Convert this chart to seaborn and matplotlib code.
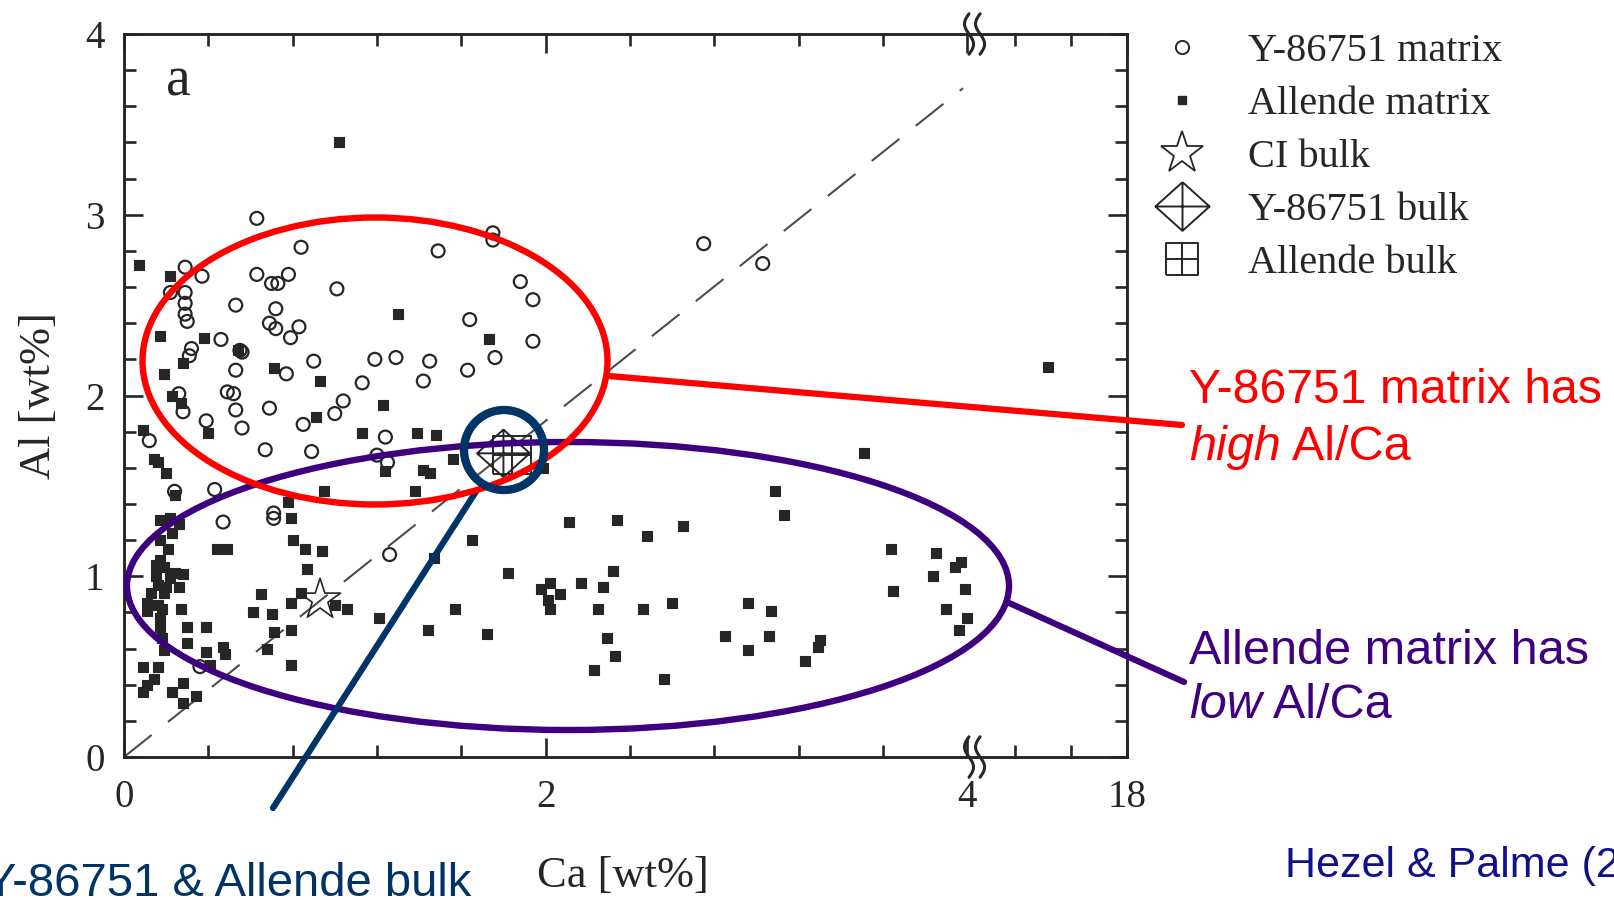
import matplotlib
matplotlib.use("Agg")
import matplotlib.pyplot as plt
import numpy as np
import pandas as pd
import seaborn as sns
from matplotlib.lines import Line2D
from matplotlib.patches import Ellipse
from matplotlib.path import Path

# Y-86751 matrix analyses (open circles), wt%
y86_ca = [0.63, 0.84, 1.49, 1.75, 1.75, 2.75, 3.03, 0.29, 0.37, 0.63,
          0.70, 0.73, 0.78, 1.01, 0.22, 0.29, 0.29, 0.53, 0.72, 0.29,
          0.30, 0.69, 0.72, 0.83, 0.79, 0.46, 1.88, 1.94, 1.64, 1.94,
          0.32, 0.31, 0.55, 0.56, 0.90, 1.19, 1.29, 1.45, 1.76, 1.63,
          0.53, 0.77, 1.13, 1.42, 0.26, 0.49, 0.52, 1.04, 1.00, 0.28,
          0.53, 0.69, 0.39, 0.56, 0.85, 1.24, 1.20, 1.25, 0.12, 0.67,
          0.89, 0.24, 0.43, 0.47, 0.71, 0.71, 1.26, 0.36]
y86_al = [2.98, 2.82, 2.80, 2.90, 2.86, 2.84, 2.73, 2.71, 2.66, 2.67,
          2.62, 2.62, 2.67, 2.59, 2.57, 2.57, 2.51, 2.50, 2.48, 2.45,
          2.41, 2.40, 2.37, 2.38, 2.32, 2.31, 2.63, 2.53, 2.42, 2.30,
          2.26, 2.22, 2.25, 2.24, 2.19, 2.20, 2.21, 2.19, 2.21, 2.14,
          2.14, 2.12, 2.07, 2.08, 2.01, 2.02, 2.01, 1.97, 1.90, 1.91,
          1.92, 1.93, 1.86, 1.82, 1.84, 1.77, 1.67, 1.63, 1.75, 1.70,
          1.69, 1.47, 1.48, 1.30, 1.35, 1.32, 1.12, 0.50]

# Allende matrix analyses (filled squares), wt%
allende_upper_ca = [1.02, 0.07, 0.22, 0.17, 0.38, 0.28, 0.19, 0.54, 0.71, 0.93,
                    1.30, 1.73, 0.23, 0.27, 0.91, 1.23, 0.40, 0.09, 1.13, 1.39,
                    1.48, 1.56, 1.42, 1.45, 1.24, 0.14, 0.16, 0.20, 0.24, 0.95,
                    1.38, 1.99, 15.2, 3.51]
allende_upper_al = [3.40, 2.72, 2.66, 2.33, 2.32, 2.18, 2.12, 2.25, 2.15, 2.08,
                    2.45, 2.31, 2.00, 1.96, 1.88, 1.95, 1.79, 1.81, 1.79, 1.79,
                    1.78, 1.65, 1.59, 1.57, 1.58, 1.65, 1.63, 1.57, 1.45, 1.47,
                    1.47, 1.60, 2.16, 1.68]
allende_left_ca = [0.17, 0.22, 0.26, 0.23, 0.17, 0.21, 0.17, 0.15, 0.19, 0.24,
                   0.28, 0.15, 0.22, 0.26, 0.20, 0.16, 0.13, 0.19, 0.11, 0.16,
                   0.11, 0.18, 0.27, 0.17, 0.17, 0.30, 0.39, 0.18, 0.30, 0.19,
                   0.39, 0.47, 0.48, 0.09, 0.16, 0.41, 0.14, 0.11, 0.09, 0.28,
                   0.23, 0.28, 0.34]
allende_left_al = [1.31, 1.32, 1.29, 1.24, 1.20, 1.15, 1.09, 1.06, 1.05, 1.02,
                   1.01, 1.00, 0.99, 0.94, 0.94, 0.95, 0.91, 0.91, 0.85, 0.84,
                   0.81, 0.82, 0.82, 0.77, 0.72, 0.72, 0.72, 0.66, 0.63, 0.59,
                   0.58, 0.61, 0.57, 0.50, 0.50, 0.51, 0.43, 0.40, 0.36, 0.41,
                   0.36, 0.30, 0.34]
allende_mid_ca = [0.44, 0.49, 0.78, 0.79, 0.80, 0.86, 0.94, 0.87, 0.65, 0.61,
                  0.70, 0.79, 0.84, 0.71, 0.79, 0.68, 0.79, 1.00, 1.06, 1.21,
                  1.57, 1.44, 1.72, 1.47, 1.65, 1.82, 2.11, 2.34, 2.02, 1.98,
                  2.07, 2.01, 2.02, 2.17, 2.27, 2.32, 2.25, 2.29, 2.33, 2.23]
allende_mid_al = [1.15, 1.15, 1.41, 1.32, 1.20, 1.15, 1.14, 1.04, 0.90, 0.80,
                  0.79, 0.85, 0.91, 0.69, 0.70, 0.60, 0.51, 0.84, 0.82, 0.77,
                  0.82, 0.70, 0.68, 1.10, 1.20, 1.02, 1.30, 1.31, 0.96, 0.93,
                  0.90, 0.87, 0.82, 0.96, 0.94, 1.03, 0.82, 0.66, 0.56, 0.48]
allende_right_ca = [3.09, 3.13, 2.48, 2.65, 2.46, 2.60, 2.56, 2.96, 3.07, 2.85,
                    3.06, 2.96, 3.30, 3.29, 3.23, 3.64, 3.65, 3.85, 3.97, 3.94,
                    3.84, 3.99, 3.90, 4.00, 3.96]
allende_right_al = [1.47, 1.34, 1.22, 1.28, 0.82, 0.85, 0.43, 0.85, 0.81, 0.67,
                    0.67, 0.59, 0.65, 0.61, 0.53, 1.15, 0.92, 1.13, 1.08, 1.05,
                    1.00, 0.93, 0.82, 0.77, 0.70]

# bulk compositions
ci_bulk_ca, ci_bulk_al = [0.93], [0.87]
y86_bulk_ca, y86_bulk_al = [1.80], [1.68]
allende_bulk_ca, allende_bulk_al = [1.84], [1.67]

# CI Al/Ca reference line
ci_line_ca = [0.0, 3.98]
ci_line_al = [0.0, 3.70]

legend_labels = ["Y-86751 matrix", "Allende matrix", "CI bulk",
                 "Y-86751 bulk", "Allende bulk"]

W, H = 1614, 900
INK = "#262626"
RED = "#ff0000"
PURPLE = "#3f007f"
NAVY = "#003366"
BREAK = 12.5  # Ca values between 4 and BREAK are squeezed out of the axis


def ca_forward(x):
    x = np.asarray(x, dtype=float)
    return np.where(x <= 4, x,
                    np.where(x <= BREAK, 4 + (x - 4) * 0.025 / (BREAK - 4),
                             4.025 + (x - BREAK) * 0.1333))


def ca_inverse(t):
    t = np.asarray(t, dtype=float)
    return np.where(t <= 4, t,
                    np.where(t <= 4.025, 4 + (t - 4) * (BREAK - 4) / 0.025,
                             BREAK + (t - 4.025) / 0.1333))


def fxy(px, py):
    return px / W, 1 - py / H


diamond_cross = Path(
    [(0, 0.9), (1, 0), (0, -0.9), (-1, 0), (0, 0.9), (-1, 0), (1, 0), (0, -0.9), (0, 0.9)],
    [Path.MOVETO, Path.LINETO, Path.LINETO, Path.LINETO, Path.LINETO,
     Path.MOVETO, Path.LINETO, Path.MOVETO, Path.LINETO])
grid_square = Path(
    [(-1, -1), (1, -1), (1, 1), (-1, 1), (-1, -1), (-1, 0), (1, 0), (0, -1), (0, 1)],
    [Path.MOVETO, Path.LINETO, Path.LINETO, Path.LINETO, Path.LINETO,
     Path.MOVETO, Path.LINETO, Path.MOVETO, Path.LINETO])

sns.set_theme(style="white")
plt.rcParams["font.family"] = ["Liberation Serif", "DejaVu Serif"]

y86 = pd.DataFrame({"Ca": y86_ca, "Al": y86_al})
allende = pd.DataFrame({
    "Ca": allende_upper_ca + allende_left_ca + allende_mid_ca + allende_right_ca,
    "Al": allende_upper_al + allende_left_al + allende_mid_al + allende_right_al,
})

fig = plt.figure(figsize=(W / 100, H / 100), dpi=100)
ax = fig.add_axes([124 / W, 1 - 757 / H, (1127 - 124) / W, (757 - 34) / H])
ax.set_xscale("function", functions=(ca_forward, ca_inverse))

ax.plot(ci_line_ca, ci_line_al, ls=(0, (17, 10)), color="#4d4d4d", lw=1.5, zorder=2)

sns.scatterplot(data=y86, x="Ca", y="Al", marker="o", s=9.3 ** 2,
                facecolors="none", edgecolor=INK, linewidth=1.6, ax=ax, zorder=3)
sns.scatterplot(data=allende, x="Ca", y="Al", marker="s", s=7.2 ** 2,
                color=INK, edgecolor=INK, linewidth=0.8, ax=ax, zorder=3)
sns.scatterplot(x=ci_bulk_ca, y=ci_bulk_al, marker="*", s=31 ** 2,
                facecolors="none", edgecolor=INK, linewidth=1.2, ax=ax, zorder=4)
sns.scatterplot(x=y86_bulk_ca, y=y86_bulk_al, marker=diamond_cross, s=38 ** 2,
                facecolors="none", edgecolor=INK, linewidth=1.4, ax=ax, zorder=4)
sns.scatterplot(x=allende_bulk_ca, y=allende_bulk_al, marker=grid_square, s=27 ** 2,
                facecolors="none", edgecolor=INK, linewidth=1.4, ax=ax, zorder=4)

ax.set_xlim(0, 18)
ax.set_ylim(0, 4)
ax.set_xticks([0, 2, 4, 18])
ax.set_xticklabels(["0", "2", "4", "18"])
ax.set_xticks([0.4, 0.8, 1.2, 1.6, 2.4, 2.8, 3.2, 3.6, 14, 16], minor=True)
ax.set_yticks([0, 1, 2, 3, 4])
ax.set_yticklabels(["0", "1", "2", "3", "4"])
ax.set_yticks([v for v in np.round(np.arange(0.2, 4.0, 0.2), 1) if v % 1], minor=True)
ax.tick_params(which="both", direction="in", bottom=True, left=True, top=True,
               right=True, width=1.9, color=INK, labelcolor=INK)
ax.tick_params(which="major", length=13.5, labelsize=28)
ax.tick_params(which="minor", length=8.5)
ax.tick_params(axis="x", which="major", pad=16)
ax.tick_params(axis="y", which="major", pad=14)
for spine in ax.spines.values():
    spine.set_linewidth(2.1)
    spine.set_color(INK)

ax.set_xlabel("Ca [wt%]", fontsize=32, color=INK)
ax.set_ylabel("Al [wt%]", fontsize=32, color=INK)
ax.xaxis.set_label_coords(0.4975, -0.165)
ax.xaxis.label.set_va("center")
ax.yaxis.set_label_coords(-0.0845, 0.4993)
ax.yaxis.label.set_va("center")

ax.text(0.0538, 0.9156, "a", transform=ax.transAxes, fontsize=40, color=INK,
        ha="center", va="baseline")

# axis-break squiggles on the top and bottom spines
tt = np.linspace(-1, 1, 40)
for xb in (0.8425, 0.8535):
    for yb in (0.0, 1.0):
        ax.plot(xb - 0.0045 * np.sin(np.pi * tt), yb + 0.028 * tt, color=INK, lw=2.2,
                transform=ax.transAxes, clip_on=False, zorder=6)

handles = [
    Line2D([], [], ls="none", marker="o", ms=9.5, mfc="none", mec=INK, mew=1.4),
    Line2D([], [], ls="none", marker="s", ms=6, mfc=INK, mec=INK),
    Line2D([], [], ls="none", marker="*", ms=32, mfc="none", mec=INK, mew=1.3),
    Line2D([], [], ls="none", marker=diamond_cross, ms=39, mfc="none", mec=INK, mew=1.4),
    Line2D([], [], ls="none", marker=grid_square, ms=23, mfc="none", mec=INK, mew=1.4),
]
leg = fig.legend(handles, legend_labels, loc="upper left",
                 bbox_to_anchor=(1155 / W, 1 - 33 / H), frameon=False,
                 prop={"family": "Liberation Serif", "size": 29},
                 handlelength=1.34, handletextpad=0.98, labelspacing=0.39,
                 borderpad=0, borderaxespad=0)
for txt in leg.get_texts():
    txt.set_color(INK)

# highlight overlays
fig.add_artist(Ellipse(fxy(568, 586), 882 / W, 288 / H, transform=fig.transFigure,
                       fill=False, ec=PURPLE, lw=4.6, zorder=10))
fig.add_artist(Ellipse(fxy(375, 361), 465 / W, 287 / H, transform=fig.transFigure,
                       fill=False, ec=RED, lw=4.6, zorder=11))
fig.add_artist(Ellipse(fxy(504, 450), 80 / W, 80 / H, transform=fig.transFigure,
                       fill=False, ec=NAVY, lw=6.0, zorder=12))
for (p0, p1, col) in [((609, 376), (1182, 425), RED),
                      ((1007, 602), (1184, 682), PURPLE),
                      ((477, 490), (273, 808), NAVY)]:
    (x0, y0), (x1, y1) = fxy(*p0), fxy(*p1)
    fig.add_artist(Line2D([x0, x1], [y0, y1], transform=fig.transFigure,
                          color=col, lw=4.5, zorder=10))

sans = ["Liberation Sans", "DejaVu Sans"]
renderer = fig.canvas.get_renderer()


def two_part(px, py, first, rest, color):
    t1 = fig.text(px / W, 1 - py / H, first, color=color, fontsize=35,
                  family=sans, style="italic", va="baseline")
    bb = t1.get_window_extent(renderer)
    fig.text(bb.x1 / W, 1 - py / H, rest, color=color, fontsize=35,
             family=sans, va="baseline")


fig.text(1189 / W, 1 - 403 / H, "Y-86751 matrix has", color=RED, fontsize=34.7,
         family=sans, va="baseline")
two_part(1189, 460, "high", " Al/Ca", RED)
fig.text(1189 / W, 1 - 664 / H, "Allende matrix has", color=PURPLE, fontsize=35,
         family=sans, va="baseline")
two_part(1189, 718, "low", " Al/Ca", PURPLE)
# the reference crops this caption at the left edge and the citation at the right
fig.text(471 / W, 1 - 896 / H, "Y-86751 & Allende bulk", color=NAVY, fontsize=34,
         family=sans, ha="right", va="baseline")
fig.text(1285 / W, 1 - 877 / H, "Hezel & Palme (2008)", color="#10108a", fontsize=31,
         family=sans, va="baseline")

fig.savefig("out.png", dpi=100)
